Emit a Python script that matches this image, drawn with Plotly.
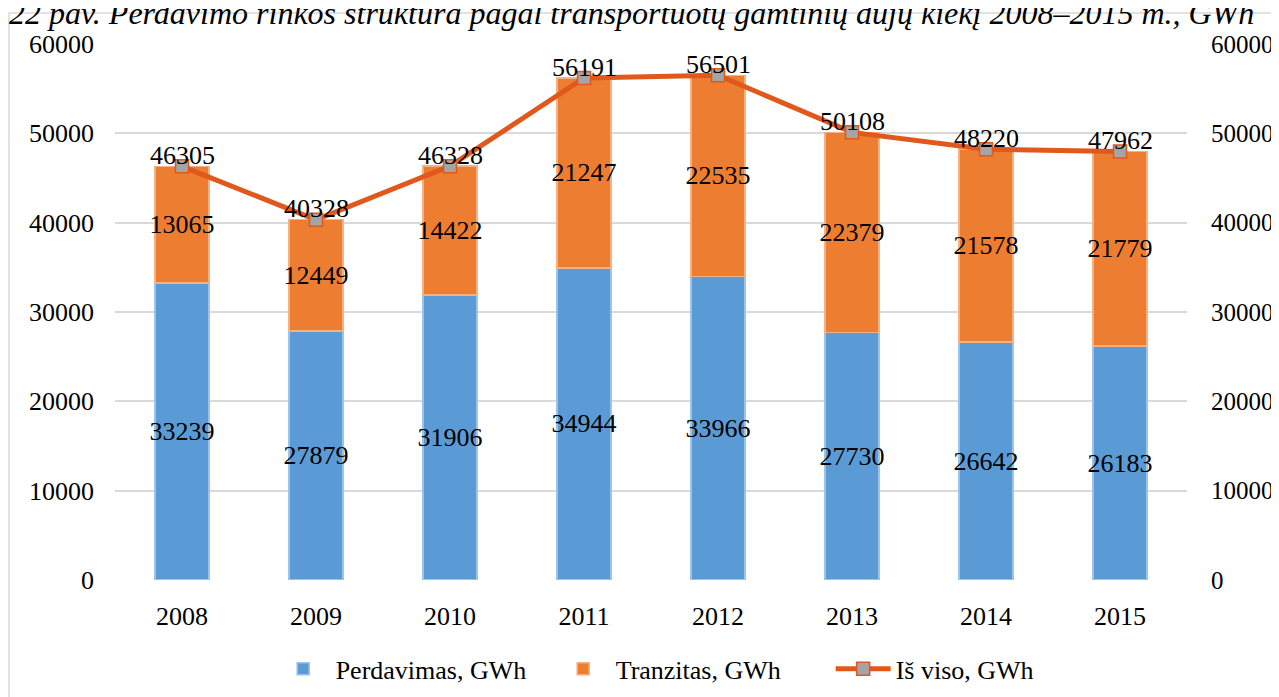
import plotly.graph_objects as go

years = ["2008", "2009", "2010", "2011", "2012", "2013", "2014", "2015"]
perdavimas = [33239, 27879, 31906, 34944, 33966, 27730, 26642, 26183]
tranzitas = [13065, 12449, 14422, 21247, 22535, 22379, 21578, 21779]
is_viso = [46305, 40328, 46328, 56191, 56501, 50108, 48220, 47962]
y_ticks = [0, 10000, 20000, 30000, 40000, 50000, 60000]

title_text = "22 pav. Perdavimo rinkos struktūra pagal transportuotų gamtinių dujų kiekį 2008–2015 m., GWh"

FONT = "Liberation Serif, Times New Roman, serif"
BLUE = "#5B9BD5"
ORANGE = "#ED7D31"
LINE = "#E0581C"
GREY = "#A5A5A5"

fig = go.Figure()
fig.add_trace(go.Bar(
    x=years, y=perdavimas, name="Perdavimas, GWh",
    marker=dict(color=BLUE, line=dict(color="#9DC3E6", width=1.5)),
    texttemplate="%{y}", textposition="inside", textangle=0,
    insidetextanchor="middle", constraintext="none",
    textfont=dict(family=FONT, size=26, color="black"),
))
fig.add_trace(go.Bar(
    x=years, y=tranzitas, name="Tranzitas, GWh",
    marker=dict(color=ORANGE, line=dict(color="#F4B183", width=1.5)),
    texttemplate="%{y}", textposition="inside", textangle=0,
    insidetextanchor="middle", constraintext="none",
    textfont=dict(family=FONT, size=26, color="black"),
))
fig.add_trace(go.Scatter(
    x=years, y=is_viso, name="Iš viso, GWh", yaxis="y2",
    mode="lines+markers",
    line=dict(color=LINE, width=5),
    marker=dict(symbol="square", size=13, color=GREY, line=dict(color=LINE, width=1.5)),
))

annotations = []
for i, v in enumerate(is_viso):
    annotations.append(dict(
        x=i, y=v, xref="x", yref="y2", text=str(v), showarrow=False,
        yanchor="middle", yshift=11, font=dict(family=FONT, size=26, color="black"),
    ))
annotations.append(dict(
    x=-0.1007, y=1.058, xref="paper", yref="paper", xanchor="left", yanchor="middle",
    text="<i>" + title_text + "</i>", showarrow=False,
    font=dict(family=FONT, size=32, color="black"),
))

fig.update_layout(
    width=1279, height=697,
    margin=dict(l=107, r=100, t=36, b=125),
    paper_bgcolor="white", plot_bgcolor="white",
    barmode="stack", bargap=0.6,
    font=dict(family=FONT, size=26, color="black"),
    xaxis=dict(type="category", range=[-0.5, 7.5], showgrid=False, showline=False, ticks="",
               tickfont=dict(family=FONT, size=26), ticklabelstandoff=18),
    yaxis=dict(range=[0, 60000], tickvals=y_ticks, tickformat="d", showgrid=True,
               gridcolor="#D9D9D9", gridwidth=1.5, zeroline=False, showline=False, ticks="",
               tickfont=dict(family=FONT, size=26), ticklabelstandoff=20),
    yaxis2=dict(range=[0, 60000], tickvals=y_ticks, tickformat="d", overlaying="y",
                side="right", showgrid=False, zeroline=False, showline=False, ticks="",
                tickfont=dict(family=FONT, size=25), ticklabelstandoff=23),
    legend=dict(orientation="h", x=0.537, xanchor="center", y=-0.1656, yanchor="middle",
                font=dict(family=FONT, size=26), traceorder="normal", itemwidth=55,
                entrywidth=210, entrywidthmode="pixels"),
    annotations=annotations,
    shapes=[dict(type="rect", xref="paper", yref="paper", x0=-0.0989, x1=1.12,
                 y0=-0.3, y1=1.0578, line=dict(color="#D9D9D9", width=1.5),
                 fillcolor="rgba(0,0,0,0)", layer="below")],
)

fig.write_html("out.html")
